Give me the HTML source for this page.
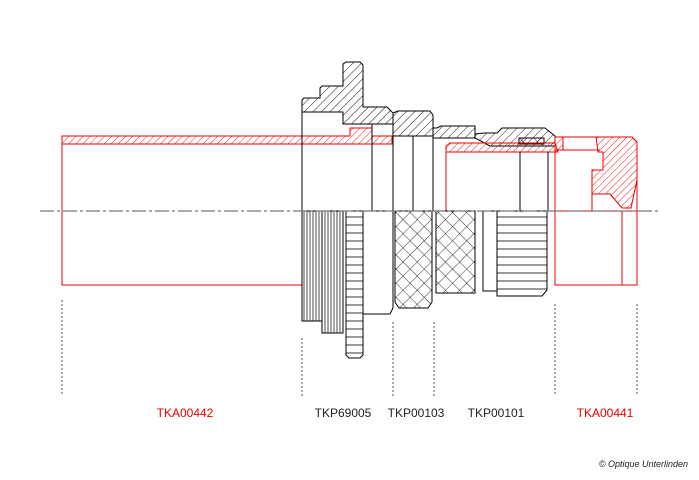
<!DOCTYPE html>
<html><head><meta charset="utf-8"><style>
html,body{margin:0;padding:0;background:#fff;}
svg{display:block;font-family:"Liberation Sans",sans-serif;}
</style></head><body>
<svg width="699" height="480" viewBox="0 0 699 480" xmlns="http://www.w3.org/2000/svg">
<defs>
<pattern id="hb" width="6" height="6" patternUnits="userSpaceOnUse" patternTransform="rotate(45)"><line x1="0" y1="0" x2="0" y2="6" stroke="#000" stroke-width="0.9"/></pattern>
<pattern id="hr" width="5" height="5" patternUnits="userSpaceOnUse" patternTransform="rotate(45)"><line x1="0" y1="0" x2="0" y2="5" stroke="#e00" stroke-width="0.9"/></pattern>
<pattern id="xh" width="10" height="10" patternUnits="userSpaceOnUse" patternTransform="rotate(45)"><line x1="0" y1="0" x2="0" y2="10" stroke="#000" stroke-width="0.8"/><line x1="0" y1="0" x2="10" y2="0" stroke="#000" stroke-width="0.8"/></pattern>
<pattern id="vt" width="3" height="10" patternUnits="userSpaceOnUse"><line x1="1" y1="0" x2="1" y2="10" stroke="#000" stroke-width="0.7"/></pattern>
<pattern id="hz" width="10" height="8" patternUnits="userSpaceOnUse"><line x1="0" y1="1" x2="10" y2="1" stroke="#000" stroke-width="0.8"/></pattern>
</defs>
<g fill="none" stroke-width="1">
<!-- red tube TKA00442 -->
<rect x="62" y="136" width="240" height="149" stroke="#e00"/>
<path d="M62 136 H350 V128 H372 V144 H62 Z" fill="url(#hr)" stroke="#e00"/>
<line x1="372" y1="136" x2="392" y2="136" stroke="#e00"/>
<line x1="372" y1="144" x2="392" y2="144" stroke="#e00"/>
<path d="M372 136 H392 V144 H372Z" fill="url(#hr)" stroke="#e00"/>
<!-- nut TKP69005 top -->
<path d="M302 100 L304 98 H320 V88 L322 86 H343 V64 L346 62 H360 L363 65 V107 H387 L393 113 V124 H343 V112 H302 Z" fill="url(#hb)" stroke="#000"/>
<line x1="302" y1="112" x2="302" y2="211" stroke="#000"/>
<line x1="372" y1="124" x2="372" y2="211" stroke="#000"/>
<line x1="393" y1="124" x2="393" y2="211" stroke="#000"/>
<!-- nut bottom -->
<rect x="302" y="211" width="20" height="110" fill="url(#vt)" stroke="#000"/>
<rect x="322" y="211" width="21" height="122" fill="url(#vt)" stroke="#000"/>
<path d="M346 211 H363 V355 L360 358 H349 L346 355 Z" fill="url(#hz)" stroke="#000"/>
<path d="M363 211 H393 V308 L390 314 H363" stroke="#000"/>
<!-- TKP00103 -->
<path d="M393 113 L398 111 H430 L433 115 V128 H433 V136 H393 Z" fill="url(#hb)" stroke="#000"/>
<line x1="413" y1="136" x2="413" y2="211" stroke="#000"/>
<line x1="433" y1="136" x2="433" y2="211" stroke="#000"/>
<path d="M395 211 H432 V302 L428 308 H399 L395 302 Z" fill="url(#xh)" stroke="#000"/>
<line x1="393" y1="211" x2="393" y2="308" stroke="#000"/>
<!-- TKP00101 -->
<path d="M433 128 H437 L441 126 H475 V138 H433Z" fill="url(#hb)" stroke="#000"/>
<path d="M475 134 L484 133 H497 L502 128 H545 L555 136 V146 H490 L475 138Z" fill="url(#hb)" stroke="#000"/>
<rect x="519" y="138" width="25" height="6" fill="url(#xh)" stroke="#000"/>
<path d="M446 152 V146 L450 143 H555 L558 152 Z" fill="url(#hr)" stroke="#e00"/>
<line x1="446" y1="152" x2="446" y2="211" stroke="#e00"/>
<line x1="520" y1="152" x2="520" y2="211" stroke="#000"/>
<line x1="548" y1="152" x2="548" y2="211" stroke="#000"/>
<rect x="436" y="211" width="39" height="82" fill="url(#xh)" stroke="#000"/>
<rect x="483" y="211" width="14" height="80" stroke="#000"/>
<path d="M497 211 H547 V290 L542 296 H497 Z" fill="url(#hz)" stroke="#000"/>
<line x1="547" y1="211" x2="547" y2="290" stroke="#000"/>
<!-- TKA00441 -->
<path d="M555 137 H632 L637 142 V285 H555 Z" stroke="#e00"/>
<path d="M555 137 H563 V150 H555Z" fill="url(#hr)" stroke="#e00"/>
<path d="M596 137 H632 L637 142 V180 L631 208 H622 L610 194 H592 V170 H603 V152 H598 Z" fill="url(#hr)" stroke="#e00"/>
<line x1="563" y1="150" x2="600" y2="150" stroke="#e00"/>
<line x1="592" y1="194" x2="592" y2="211" stroke="#e00"/>
<line x1="622" y1="211" x2="622" y2="285" stroke="#e00"/>
<line x1="555" y1="211" x2="637" y2="211" stroke="#e00"/>
</g>
<!-- centerline -->
<line x1="40" y1="211" x2="660" y2="211" stroke="#777" stroke-width="1.2" stroke-dasharray="14,3,3,3"/>
<!-- dotted leaders -->
<g stroke="#555" stroke-width="1" stroke-dasharray="2,2">
<line x1="62" y1="300" x2="62" y2="396"/>
<line x1="302" y1="338" x2="302" y2="396"/>
<line x1="393" y1="322" x2="393" y2="396"/>
<line x1="434" y1="322" x2="434" y2="396"/>
<line x1="555" y1="304" x2="555" y2="396"/>
<line x1="637" y1="304" x2="637" y2="396"/>
</g>
<g font-size="12">
<text x="185" y="417" fill="#e00" text-anchor="middle">TKA00442</text>
<text x="343" y="417" fill="#222" text-anchor="middle">TKP69005</text>
<text x="416" y="417" fill="#222" text-anchor="middle">TKP00103</text>
<text x="496" y="417" fill="#222" text-anchor="middle">TKP00101</text>
<text x="605" y="417" fill="#e00" text-anchor="middle">TKA00441</text>
</g>
<text x="688" y="467" font-size="9" font-style="italic" fill="#222" text-anchor="end">© Optique Unterlinden</text>
</svg>
</body></html>
